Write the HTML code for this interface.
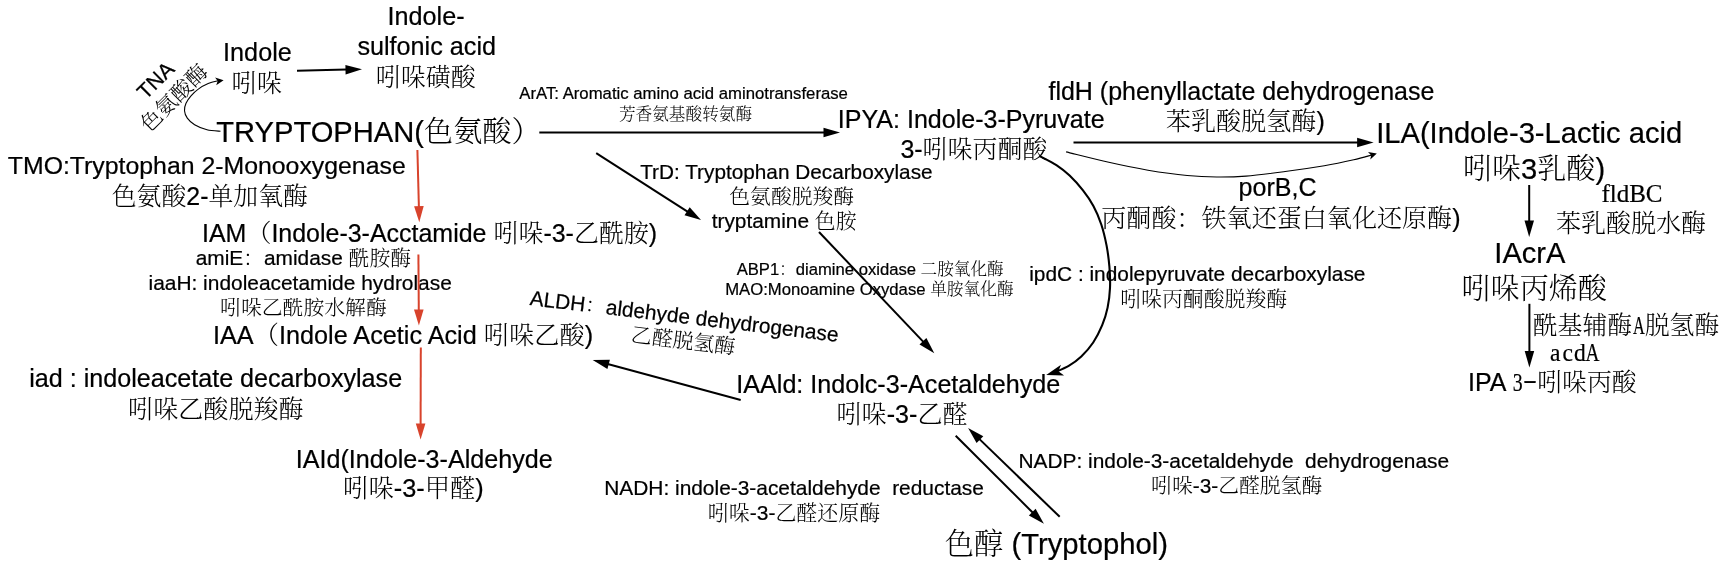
<!DOCTYPE html>
<html lang="zh"><head><meta charset="utf-8"><title>Tryptophan metabolism</title>
<style>
html,body{margin:0;padding:0;background:#fff;}
svg{display:block;will-change:transform;}
text{font-family:"Liberation Sans","Noto Serif CJK SC",sans-serif;fill:#000;white-space:pre;}
text{stroke:#000;stroke-width:0.22px;}
.c{font-weight:300;stroke:none;}
.sf{font-family:"Liberation Serif","Noto Serif CJK SC",serif;}
.cj{font-family:"Noto Serif CJK SC",serif;}
.mono{font-family:"Liberation Serif","Noto Serif CJK SC",serif;}
</style></head><body>
<svg width="1735" height="568" viewBox="0 0 1735 568">
<rect width="1735" height="568" fill="#fff"/>
<text id="t0" x="387.6" y="25.0" font-size="25.2">Indole-</text>
<text id="t1" x="357.4" y="54.6" font-size="25.19">sulfonic acid</text>
<text id="t2" x="375.8" y="86.1" font-size="25.01"><tspan class="c">吲哚磺酸</tspan></text>
<text id="t3" x="223.1" y="60.8" font-size="25.21">Indole</text>
<text id="t4" x="231.6" y="92.1" font-size="25.18"><tspan class="c">吲哚</tspan></text>
<text id="t5" x="216.2" y="142.3" font-size="29.15">TRYPTOPHAN(<tspan class="c">色氨酸）</tspan></text>
<text id="t6" x="7.8" y="173.9" font-size="24.84">TMO:Tryptophan 2-Monooxygenase</text>
<text id="t7" x="111.7" y="204.6" font-size="24.89"><tspan class="c">色氨酸</tspan>2-<tspan class="c">单加氧酶</tspan></text>
<text id="t8" x="202.0" y="242.3" font-size="24.98">IAM<tspan class="c">（</tspan>Indole-3-Acctamide <tspan class="c">吲哚</tspan>-3-<tspan class="c">乙酰胺</tspan>)</text>
<text id="t9" x="195.7" y="264.7" font-size="20.85">amiE<tspan class="c">：</tspan>amidase <tspan class="c">酰胺酶</tspan></text>
<text id="t10" x="148.5" y="289.6" font-size="20.91">iaaH: indoleacetamide hydrolase</text>
<text id="t11" x="220.1" y="315.1" font-size="20.83"><tspan class="c">吲哚乙酰胺水解酶</tspan></text>
<text id="t12" x="213.0" y="343.9" font-size="25.24">IAA<tspan class="c">（</tspan>Indole Acetic Acid <tspan class="c">吲哚乙酸</tspan>)</text>
<text id="t13" x="29.2" y="387.3" font-size="25.13">iad : indoleacetate decarboxylase</text>
<text id="t14" x="128.1" y="418.3" font-size="25.09"><tspan class="c">吲哚乙酸脱羧酶</tspan></text>
<text id="t15" x="295.7" y="467.9" font-size="25.13">IAId(Indole-3-Aldehyde</text>
<text id="t16" x="343.1" y="497.3" font-size="25.32"><tspan class="c">吲哚</tspan>-3-<tspan class="c">甲醛</tspan>)</text>
<text id="t17" x="519.3" y="98.9" font-size="16.73">ArAT: Aromatic amino acid aminotransferase</text>
<text id="t18" x="618.9" y="119.6" font-size="16.67"><tspan class="c">芳香氨基酸转氨酶</tspan></text>
<text id="t19" x="837.8" y="128.0" font-size="25.06">IPYA: Indole-3-Pyruvate</text>
<text id="t20" x="900.4" y="157.9" font-size="24.97">3-<tspan class="c">吲哚丙酮酸</tspan></text>
<text id="t21" x="640.2" y="178.8" font-size="20.77">TrD: Tryptophan Decarboxylase</text>
<text id="t22" x="729.3" y="204.1" font-size="20.82"><tspan class="c">色氨酸脱羧酶</tspan></text>
<text id="t23" x="711.7" y="227.6" font-size="20.85">tryptamine <tspan class="c">色胺</tspan></text>
<text id="t24" x="736.7" y="275.0" font-size="16.64">ABP1<tspan class="c">：</tspan>diamine oxidase <tspan class="c">二胺氧化酶</tspan></text>
<text id="t25" x="725.2" y="295.4" font-size="16.71">MAO:Monoamine Oxydase <tspan class="c">单胺氧化酶</tspan></text>
<text id="t26" x="736.3" y="393.0" font-size="25.13">IAAld: Indolc-3-Acetaldehyde</text>
<text id="t27" x="836.5" y="422.9" font-size="25.1"><tspan class="c">吲哚</tspan>-3-<tspan class="c">乙醛</tspan></text>
<text id="t28" x="604.2" y="494.6" font-size="20.9">NADH: indole-3-acetaldehyde  reductase</text>
<text id="t29" x="707.8" y="520.1" font-size="20.98"><tspan class="c">吲哚</tspan>-3-<tspan class="c">乙醛还原酶</tspan></text>
<text id="t30" x="944.8" y="554.0" font-size="29.24"><tspan class="c">色醇</tspan> (Tryptophol)</text>
<text id="t31" x="1018.5" y="467.9" font-size="20.89">NADP: indole-3-acetaldehyde  dehydrogenase</text>
<text id="t32" x="1151.1" y="492.9" font-size="20.84"><tspan class="c">吲哚</tspan>-3-<tspan class="c">乙醛脱氢酶</tspan></text>
<text id="t33" x="1048.5" y="99.6" font-size="24.98">fldH (phenyllactate dehydrogenase</text>
<text id="t34" x="1165.8" y="130.0" font-size="25.1"><tspan class="c">苯乳酸脱氢酶</tspan>)</text>
<text id="t35" x="1376.2" y="143.1" font-size="29.13">ILA(Indole-3-Lactic acid</text>
<text id="t36" x="1462.9" y="179.0" font-size="29.1"><tspan class="c">吲哚</tspan>3<tspan class="c">乳酸</tspan>)</text>
<text id="t37" x="1238.6" y="196.0" font-size="25.07">porB,C</text>
<text id="t38" x="1101.3" y="226.5" font-size="25.07"><tspan class="c">丙酮酸：铁氧还蛋白氧化还原酶</tspan>)</text>
<text id="t39" x="1601.4" y="202.3" font-size="25.03" class="sf">fldBC</text>
<text id="t40" x="1555.9" y="232.3" font-size="25.03"><tspan class="c">苯乳酸脱水酶</tspan></text>
<text id="t41" x="1494.3" y="263.3" font-size="29.1">IAcrA</text>
<text id="t42" x="1461.5" y="298.9" font-size="29.09"><tspan class="c">吲哚丙烯酸</tspan></text>
<text id="t43" x="1029.2" y="280.8" font-size="20.87">ipdC : indolepyruvate decarboxylase</text>
<text id="t44" x="1120.2" y="305.5" font-size="20.88"><tspan class="c">吲哚丙酮酸脱羧酶</tspan></text>
<text id="tipa" y="390.7"><tspan x="1468.0" font-size="25">IPA </tspan><tspan class="sf" x="1512.7" font-size="24.8" textLength="9.9" lengthAdjust="spacingAndGlyphs">3</tspan><tspan class="sf" x="1523.1" font-size="24.8" textLength="14.0" lengthAdjust="spacingAndGlyphs" dy="-2.4">-</tspan><tspan x="1537.2" dy="2.4" font-size="24.9"><tspan class="c">吲哚丙酸</tspan></tspan></text>
<text id="tacyl" y="333.9" font-size="24.9" class="cj"><tspan x="1532.7"><tspan class="c">酰基辅酶</tspan></tspan><tspan class="sf" x="1633.1" font-size="24.8" textLength="11.8" lengthAdjust="spacingAndGlyphs">A</tspan><tspan x="1644.7"><tspan class="c">脱氢酶</tspan></tspan></text>
<text id="tacd" y="361.3" font-size="24.8" class="sf"><tspan class="sf" x="1550.0" font-size="24.8" textLength="10.46" lengthAdjust="spacingAndGlyphs">a</tspan><tspan class="sf" x="1562.4" font-size="24.8" textLength="10.46" lengthAdjust="spacingAndGlyphs">c</tspan><tspan class="sf" x="1574.1" font-size="24.8" textLength="11.78" lengthAdjust="spacingAndGlyphs">d</tspan><tspan class="sf" x="1585.4" font-size="24.8" textLength="13.97" lengthAdjust="spacingAndGlyphs">A</tspan></text>
<text id="r1" x="155.4" y="80.2" font-size="21.2" text-anchor="middle" dominant-baseline="central" transform="rotate(-45 155.4 80.2)">TNA</text>
<text id="r2" x="173.5" y="97.4" font-size="21.2" text-anchor="middle" dominant-baseline="central" transform="rotate(-45 173.5 97.4)"><tspan class="c">色氨酸酶</tspan></text>
<text id="r3" x="529.3" y="305" font-size="20.85" transform="rotate(6.8 529.3 305)">ALDH<tspan class="c">：</tspan>aldehyde dehydrogenase</text>
<text id="r4" x="683.3" y="340" font-size="20.95" text-anchor="middle" dominant-baseline="central" transform="rotate(6.8 683.3 340)"><tspan class="c">乙醛脱氢酶</tspan></text>
<line x1="297.0" y1="70.7" x2="346.5" y2="69.6" stroke="#000" stroke-width="2"/><polygon points="362.0,69.3 345.6,74.4 345.4,64.9" fill="#000"/>
<line x1="539.3" y1="132.4" x2="824.5" y2="132.4" stroke="#000" stroke-width="2"/><polygon points="840.0,132.4 823.5,137.2 823.5,127.7" fill="#000"/>
<line x1="596.2" y1="153.1" x2="687.9" y2="211.8" stroke="#000" stroke-width="2"/><polygon points="701.0,220.1 684.5,215.2 689.7,207.2" fill="#000"/>
<line x1="819.0" y1="232.0" x2="923.6" y2="342.1" stroke="#000" stroke-width="2"/><polygon points="934.3,353.3 919.5,344.6 926.4,338.1" fill="#000"/>
<line x1="740.7" y1="400.0" x2="607.7" y2="364.0" stroke="#000" stroke-width="2"/><polygon points="592.7,360.0 609.9,359.7 607.4,368.9" fill="#000"/>
<line x1="955.7" y1="435.8" x2="1032.9" y2="512.8" stroke="#000" stroke-width="2"/><polygon points="1043.9,523.7 1028.9,515.4 1035.6,508.7" fill="#000"/>
<line x1="1059.7" y1="516.8" x2="979.2" y2="438.9" stroke="#000" stroke-width="2"/><polygon points="968.1,428.1 983.3,436.2 976.6,443.0" fill="#000"/>
<line x1="1073.5" y1="142.6" x2="1358.1" y2="142.6" stroke="#000" stroke-width="2"/><polygon points="1373.6,142.6 1357.1,147.3 1357.1,137.8" fill="#000"/>
<line x1="1529.2" y1="185.0" x2="1529.2" y2="221.5" stroke="#000" stroke-width="2"/><polygon points="1529.2,237.0 1524.5,220.5 1534.0,220.5" fill="#000"/>
<line x1="1529.4" y1="303.8" x2="1529.4" y2="352.0" stroke="#000" stroke-width="2"/><polygon points="1529.4,367.5 1524.7,351.0 1534.2,351.0" fill="#000"/>
<line x1="417.4" y1="150.0" x2="418.9" y2="207.2" stroke="#D8432C" stroke-width="2"/><polygon points="419.3,222.2 414.1,206.3 423.7,206.1" fill="#D8432C"/>
<line x1="418.4" y1="254.5" x2="418.8" y2="310.5" stroke="#D8432C" stroke-width="2"/><polygon points="418.9,325.5 414.0,309.5 423.6,309.5" fill="#D8432C"/>
<line x1="420.8" y1="347.5" x2="420.6" y2="424.5" stroke="#D8432C" stroke-width="2"/><polygon points="420.6,439.5 415.8,423.5 425.4,423.5" fill="#D8432C"/>
<path d="M220.5,131.3 C218.2,131.1 211.3,130.9 207.0,129.8 C202.7,128.7 197.9,126.8 194.6,124.8 C191.3,122.8 189.0,120.4 187.3,118.1 C185.6,115.8 184.7,113.2 184.5,110.7 C184.3,108.2 184.9,105.8 186.0,103.3 C187.1,100.8 188.9,98.3 191.0,95.9 C193.1,93.5 195.4,91.1 198.3,89.1 C201.2,87.0 204.9,85.0 208.2,83.6 C211.5,82.2 216.0,81.3 218.1,80.8 C220.2,80.3 220.1,80.5 220.5,80.4" fill="none" stroke="#000" stroke-width="1.1"/>
<polygon points="223.6,80.2 216.2,85.3 217.7,81.0 215.1,77.4" fill="#000"/>
<path d="M1066.1,151.9 C1073.2,153.6 1095.1,159.2 1108.8,162.3 C1122.5,165.4 1134.9,168.0 1148.0,170.2 C1161.1,172.4 1175.8,174.4 1187.2,175.5 C1198.6,176.6 1206.8,176.9 1216.6,177.0 C1226.4,177.1 1234.6,177.0 1246.0,176.1 C1257.4,175.2 1272.2,173.2 1285.2,171.5 C1298.2,169.8 1312.9,167.6 1324.3,165.7 C1335.7,163.8 1345.7,161.6 1353.7,159.8 C1361.7,158.0 1369.4,155.6 1372.5,154.8" fill="none" stroke="#000" stroke-width="1.1"/>
<polygon points="1376.8,153.4 1370.3,159.6 1371.1,155.2 1368.0,151.9" fill="#000"/>
<path d="M1039.2,155.8 C1042.1,157.4 1051.3,161.8 1056.4,165.1 C1061.5,168.4 1065.2,171.4 1069.6,175.6 C1074.0,179.8 1078.8,185.1 1082.8,190.2 C1086.8,195.3 1090.3,200.3 1093.4,206.0 C1096.5,211.7 1099.1,217.9 1101.3,224.5 C1103.5,231.1 1105.2,238.6 1106.6,245.6 C1107.9,252.6 1108.8,259.6 1109.4,266.7 C1110.0,273.8 1110.3,281.2 1110.0,288.0 C1109.7,294.8 1108.9,301.4 1107.6,307.6 C1106.3,313.8 1104.6,319.4 1102.2,325.2 C1099.8,331.0 1096.7,337.3 1093.2,342.5 C1089.7,347.7 1085.4,352.6 1081.3,356.5 C1077.2,360.4 1073.1,363.3 1068.7,365.9 C1064.3,368.5 1057.3,371.1 1055.0,372.2" fill="none" stroke="#000" stroke-width="2.1"/>
<polygon points="1046.2,374.9 1061.0,364.8 1058.4,371.3 1064.1,375.4" fill="#000"/>
</svg>
</body></html>
